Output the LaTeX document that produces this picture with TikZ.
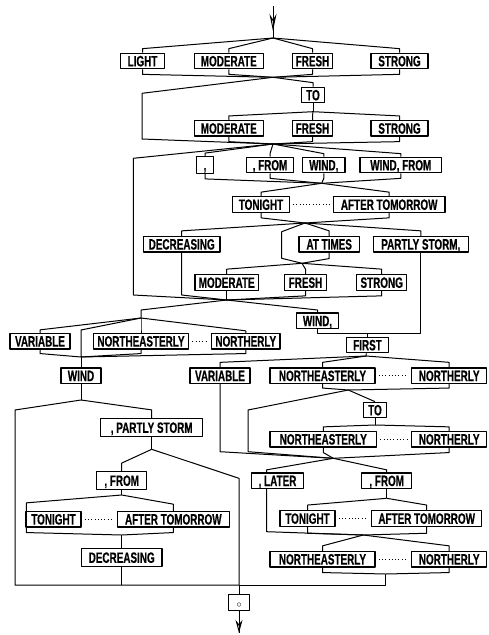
\documentclass[tikz,border=0pt]{standalone}
\usepackage{fontspec}
\newfontfamily\boxfont{Liberation Sans}[FakeStretch=0.66, FakeBold=0.5]
\usetikzlibrary{arrows.meta}

\tikzset{
  word/.style={draw, line width=1.2pt, font=\boxfont\bfseries\fontsize{15}{15}\selectfont,
    minimum height=15.5pt, inner xsep=1pt, inner ysep=0pt, text height=10.7pt, text depth=0pt},
  bw/.style={minimum width=#1pt},
  fanin/.style={to path={-- ([yshift=#1]\tikztotarget.north) -- (\tikztotarget.north)}},
  fanin/.default=4pt,
  fanup/.style={to path={(\tikztotarget.south) -- ([yshift=-#1]\tikztotarget.south) -- (\tikztostart)}},
  fanup/.default=5pt,
  dots/.style={dash pattern=on 0.9pt off 2.4pt, shorten <=3pt, shorten >=3pt},
}

\begin{document}
\begin{tikzpicture}[x=1pt, y=-1pt, line width=1pt, line join=round]
\useasboundingbox (0,0) rectangle (488,635);

% words
\node[word, bw=43.6] (light1) at (142.5,61) {LIGHT};
\node[word, bw=69] (mod1) at (228.8,61) {MODERATE};
\node[word, bw=39.6] (fresh1) at (312.5,61) {FRESH};
\node[word, bw=57] (strong1) at (399.5,61) {STRONG};
\node[word, bw=22.3] (to1) at (313,95) {TO};
\node[word, bw=69] (mod2) at (228.8,128.3) {MODERATE};
\node[word, bw=39.6] (fresh2) at (312.5,128.3) {FRESH};
\node[word, bw=57] (strong2) at (399.5,128.3) {STRONG};
\node[word, bw=16.6, minimum height=16.6pt] (comma1) at (205,165) {,};
\node[word, bw=46.6] (from1) at (270,165) {, FROM};
\node[word, bw=42.3] (windc1) at (323.8,165) {WIND,};
\node[word, bw=81.7] (windfrom) at (400.8,165) {WIND, FROM};
\node[word, bw=56.6] (tonight1) at (261,204.5) {TONIGHT};
\node[word, bw=111.7] (after1) at (389.2,204.5) {AFTER TOMORROW};
\node[word, bw=76.7] (dec1) at (181.7,244.2) {DECREASING};
\node[word, bw=60.3] (attimes) at (329.2,244.2) {AT TIMES};
\node[word, bw=95] (pstorm1) at (420.8,244.2) {PARTLY STORM,};
\node[word, bw=63.3] (mod3) at (226.7,282.5) {MODERATE};
\node[word, bw=42.4] (fresh3) at (305.5,282.5) {FRESH};
\node[word, bw=50] (strong3) at (381.7,282.5) {STRONG};
\node[word, bw=41.6] (windc2) at (317.5,320.8) {WIND,};
\node[word, bw=60] (var1) at (40,341.2) {VARIABLE};
\node[word, bw=95.6] (ne1) at (141,341.2) {NORTHEASTERLY};
\node[word, bw=68.3] (north1) at (245.8,341.2) {NORTHERLY};
\node[word, bw=41.6] (first) at (367.5,345) {FIRST};
\node[word, bw=40] (wind1) at (81,375.7) {WIND};
\node[word, bw=60] (var2) at (220,375.7) {VARIABLE};
\node[word, bw=105] (ne2) at (322.5,375.7) {NORTHEASTERLY};
\node[word, bw=75] (north2) at (449.2,375.7) {NORTHERLY};
\node[word, bw=23.4] (to2) at (375,410) {TO};
\node[word, bw=102.3, minimum height=18pt] (pstorm2) at (151.7,427.5) {, PARTLY STORM};
\node[word, bw=106.7] (ne3) at (323.3,439.2) {NORTHEASTERLY};
\node[word, bw=75] (north3) at (449.2,439.2) {NORTHERLY};
\node[word, bw=50, minimum height=17.6pt] (from2) at (121.7,480.5) {, FROM};
\node[word, bw=51.6] (later) at (277.5,480.7) {, LATER};
\node[word, bw=50] (from3) at (386.7,480.7) {, FROM};
\node[word, bw=55] (tonight2) at (53.5,519.2) {TONIGHT};
\node[word, bw=112] (after2) at (173.3,519.2) {AFTER TOMORROW};
\node[word, bw=55] (tonight3) at (307.5,518.4) {TONIGHT};
\node[word, bw=110] (after3) at (426.7,518.4) {AFTER TOMORROW};
\node[word, bw=80.7, minimum height=18pt] (dec2) at (121.7,557.5) {DECREASING};
\node[word, bw=105] (ne4) at (322.5,559.2) {NORTHEASTERLY};
\node[word, bw=75] (north4) at (449.2,559.2) {NORTHERLY};
\node[word, bw=20.7, font=\normalsize] (outbox) at (239,602.5) {$\circ$};

% junctions
\coordinate (in0) at (273,6);
\coordinate (inTip) at (273,31);
\coordinate (jA) at (273,38);
\coordinate (jB) at (273,77.3);
\coordinate (byA1) at (142,93.3);
\coordinate (byA2) at (142,139);
\coordinate (jC) at (313,111.7);
\coordinate (jD) at (273,144);
\coordinate (byB1) at (133.3,158.3);
\coordinate (byB2) at (133.3,295);
\coordinate (jE) at (321.7,183.3);
\coordinate (jF) at (305,223);
\coordinate (byC1) at (281.7,231.7);
\coordinate (byC2) at (281.7,258.3);
\coordinate (jG) at (302,263.3);
\coordinate (jH) at (226.7,300);
\coordinate (lftA) at (141,310);
\coordinate (jI) at (141,318);
\coordinate (rgtA) at (317.5,310);
\coordinate (byD1) at (81,330);
\coordinate (jJ) at (81,357);
\coordinate (jK) at (81,400);
\coordinate (lftB) at (15,410);
\coordinate (lftC) at (15,585);
\coordinate (jL) at (151.7,449.3);
\coordinate (byE1) at (239,478.3);
\coordinate (jOut) at (239,585);
\coordinate (jM) at (121.7,495);
\coordinate (jN) at (121.7,535);
\coordinate (jP) at (367.5,333.3);
\coordinate (jQ) at (366,356);
\coordinate (jR) at (348.3,390);
\coordinate (byF1) at (248,410);
\coordinate (byF2) at (248,451.7);
\coordinate (jS) at (375,425);
\coordinate (jT) at (333.3,458.3);
\coordinate (byG) at (266.7,531.7);
\coordinate (jU) at (386.7,498.3);
\coordinate (jV) at (363.3,535);
\coordinate (jW) at (385.7,574);
\coordinate (jWb) at (385.7,585);
\coordinate (outEnd) at (239,633);

% entry
\draw (in0) -- (jA);
\draw[-{Stealth[open, length=17pt, width=7pt]}] (in0) -- (inTip);

% strength, optional second strength
\path (jA) edge[fanin] (light1) edge[fanin] (mod1) edge[fanin] (fresh1) edge[fanin] (strong1);
\path (jB) edge[fanup] (light1) edge[fanup] (mod1) edge[fanup] (fresh1) edge[fanup] (strong1);
\draw (jB) -- (byA1) -- (byA2) -- (jD);
\path (jB) edge[fanin] (to1);
\draw (to1) -- (jC);
\path (jC) edge[fanin] (mod2) edge[fanin] (fresh2) edge[fanin] (strong2);
\path (jD) edge[fanup] (mod2) edge[fanup] (fresh2) edge[fanup] (strong2);

% change later on
\path (jD) edge[fanin=3pt] (comma1) edge[fanin=3pt] (from1) edge[fanin=3pt] (windc1) edge[fanin=3pt] (windfrom);
\draw (jD) -- (byB1) -- (byB2) -- (jH);
\path (jE) edge[fanup] (comma1) edge[fanup] (from1) edge[fanup] (windc1) edge[fanup] (windfrom);
\path (jE) edge[fanin] (tonight1) edge[fanin] (after1);
\path (tonight1) edge[dots] (after1);
\path (jF) edge[fanup] (tonight1) edge[fanup] (after1);
\path (jF) edge[fanin=5pt] (dec1) edge[fanin=5pt] (attimes) edge[fanin=5pt] (pstorm1);
\draw (jF) -- (byC1) -- (byC2) -- (jG);
\path (jG) edge[fanup=6pt] (attimes);
\path (jG) edge[fanin=5pt] (mod3) edge[fanin=5pt] (fresh3) edge[fanin=5pt] (strong3);
\path (jH) edge[fanup] (mod3) edge[fanup] (fresh3) edge[fanup] (strong3);
\draw (dec1) -- (dec1.south |- byB2) -- (jH);

% left: direction, wind
\draw (jH) -- (lftA) -- (jI);
\path (jI) edge[fanin=3pt] (var1) edge[fanin] (ne1) edge[fanin=2pt] (north1);
\draw (jI) -- (byD1) -- (jJ);
\path (jJ) edge[fanup=4pt] (var1) edge[fanup=4pt] (ne1) edge[fanup=4pt] (north1);
\path (ne1) edge[dots] (north1);
\draw (jJ) -- (wind1);
\draw (wind1) -- (jK);
\draw (jK) -- (lftB) -- (lftC) -- (jOut);
\path (jK) edge[fanin=8pt] (pstorm2);
\draw (pstorm2) -- (jL);
\path (jL) edge[fanin=8pt] (from2);
\draw (jL) -- (byE1) -- (jOut);
\draw (from2) -- (jM);
\draw (jM) -- ([shift={(1pt,8pt)}]tonight2.north west) -- ([xshift=1pt]tonight2.north west);
\path (jM) edge[fanin=6.7pt] (after2);
\path (tonight2) edge[dots] (after2);
\draw (jN) -- ([shift={(1pt,-5pt)}]tonight2.south west) -- ([xshift=1pt]tonight2.south west);
\path (jN) edge[fanup] (after2);
\draw (jN) -- (dec2);
\draw (dec2) -- (dec2.south |- jOut);

% right: wind first, then direction
\draw (jH) -- (rgtA) -- (windc2);
\draw (windc2) -- (windc2.south |- jP) -- (jP);
\draw (pstorm1) -- (pstorm1.south |- jP) -- (jP);
\draw (jP) -- (first);
\draw (first) -- (jQ);
\path (jQ) edge[fanin=5pt] (var2) edge[fanin=5pt] (ne2) edge[fanin=5pt] (north2);
\path (ne2) edge[dots] (north2);
\path (jR) edge[fanup=4pt] (ne2) edge[fanup=4pt] (north2);
\draw (var2) -- (var2.south |- byF2) -- (jT);
\draw (jR) -- (byF1) -- (byF2) -- (jT);
\draw (jR) -- (to2.north);
\draw (to2) -- (jS);
\path (jS) edge[fanin] (ne3) edge[fanin] (north3);
\path (ne3) edge[dots] (north3);
\path (jT) edge[fanup] (ne3) edge[fanup] (north3);
\path (jT) edge[fanin=2.5pt] (from3);
\draw (jT) -- ([shift={(-11pt,2.5pt)}]later.north) -- ([xshift=-11pt]later.north);
\draw ([xshift=-11pt]later.south) -- (byG) -- (jV);
\draw (from3) -- (jU);
\path (jU) edge[fanin=5pt] (tonight3) edge[fanin=5pt] (after3);
\path (tonight3) edge[dots] (after3);
\path (jV) edge[fanup=6.5pt] (tonight3) edge[fanup=6.5pt] (after3);
\path (jV) edge[fanin=5pt] (ne4) edge[fanin=5pt] (north4);
\path (ne4) edge[dots] (north4);
\path (jW) edge[fanup] (ne4) edge[fanup] (north4);
\draw (jW) -- (jWb) -- (jOut);

% exit
\draw (jOut) -- (outbox);
\draw (outbox) -- (outEnd);
\draw[-{Stealth[open, length=13pt, width=7pt]}] (outbox) -- (outEnd);
\end{tikzpicture}
\end{document}
